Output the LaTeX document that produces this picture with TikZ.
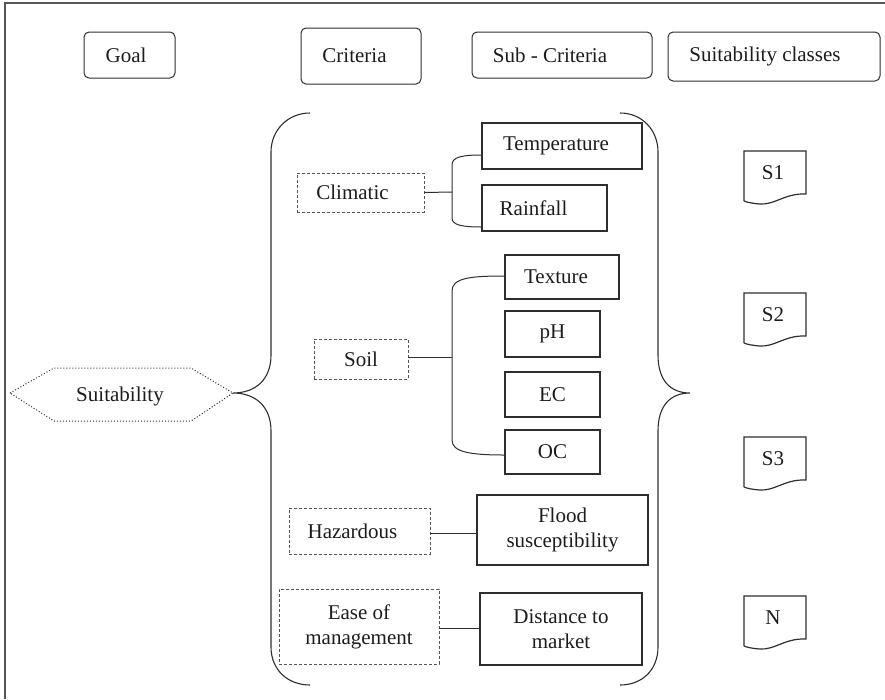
\documentclass[tikz,border=0pt]{standalone}
\usepackage{fontspec}
\setmainfont{Liberation Serif}
\usetikzlibrary{calc}
\definecolor{ink}{HTML}{1C1C1C}
\definecolor{ln}{HTML}{2E2E2E}
\definecolor{dsh}{HTML}{555555}
\begin{document}
\begin{tikzpicture}[x=1pt,y=-1pt,
  every node/.style={font=\fontsize{21}{25}\selectfont, text=ink, inner sep=0pt},
  hdr/.style={draw=ln, line width=1pt, rounded corners=5pt},
  crit/.style={draw=dsh, line width=0.8pt, dash pattern=on 3pt off 2pt},
  sub/.style={draw=ln, line width=1.3pt},
  conn/.style={draw=ln, line width=1pt},
  brace/.style={draw=ln, line width=1.1pt},
  sh/.style={execute at begin node={\hspace*{#1}}}
]
\useasboundingbox (0,0) rectangle (885,699);
% outer frame
\draw[draw=dsh, line width=1.6pt] (885,3) -- (5,3) -- (5,699);

% headers
\node[hdr, minimum width=91pt, minimum height=46pt, sh=-7pt] (goal) at (129.5,55) {Goal};
\node[hdr, minimum width=120pt, minimum height=56pt, sh=-13pt] (crith) at (361,56) {Criteria};
\node[hdr, minimum width=180pt, minimum height=46pt, sh=-24pt] (subh) at (562,55) {Sub - Criteria};
\node[hdr, minimum width=212pt, minimum height=49pt, sh=-18pt] (clsh) at (774,56.5) {Suitability classes};

% goal hexagon
\draw[draw=ln, line width=1pt, dotted] (10,393) -- (54,368) -- (191,368) -- (233,393) -- (191,421) -- (54,421) -- cycle;
\node (suit) at (120,396) {Suitability};
\coordinate (tipL) at (233,393);
\coordinate (tipR) at (690,393);

% braces
\draw[brace] (310,113) .. controls (288,113) and (271,130) .. (271,152)
  -- (271,355) .. controls (271,380) and (255,393) .. (tipL)
  .. controls (255,393) and (271,406) .. (271,431)
  -- (271,647) .. controls (271,670) and (288,685) .. (310,685);
\draw[brace] (620,113) .. controls (642,113) and (658,130) .. (658,152)
  -- (658,355) .. controls (658,380) and (670,393) .. (tipR)
  .. controls (670,393) and (658,406) .. (658,431)
  -- (658,647) .. controls (658,670) and (642,685) .. (620,685);

% criteria
\node[crit, minimum width=127pt, minimum height=39pt, sh=-16pt] (clim) at (360.5,192.5) {Climatic};
\node[crit, minimum width=94pt, minimum height=40pt] (soil) at (361,359) {Soil};
\node[crit, minimum width=141pt, minimum height=46pt, sh=-14pt] (haz) at (359.5,531) {Hazardous};
\node[crit, minimum width=160pt, minimum height=75pt, align=center] (ease) at (359,626.5) {Ease of\\management};

% sub-criteria
\node[sub, minimum width=160pt, minimum height=46pt, sh=-12pt] (temp) at (562,146) {Temperature};
\node[sub, minimum width=125pt, minimum height=46pt, sh=-22pt] (rain) at (544.5,208) {Rainfall};
\node[sub, minimum width=114pt, minimum height=44pt, sh=-12pt] (textu) at (562,277) {Texture};
\node[sub, minimum width=95pt, minimum height=46pt] (ph) at (552.5,334) {pH};
\node[sub, minimum width=95pt, minimum height=45pt] (ec) at (552.5,394.5) {EC};
\node[sub, minimum width=95pt, minimum height=44pt] (oc) at (552.5,452) {OC};
\node[sub, minimum width=171pt, minimum height=70pt, align=center] (flood) at (562.5,530) {Flood\\susceptibility};
\node[sub, minimum width=162pt, minimum height=72pt, align=center] (dist) at (561,629) {Distance to\\market};

% connectors
\coordinate (cj) at (452,192);
\draw[conn] (clim.east) -- (cj);
\draw[conn] ([yshift=-9pt]temp.west) .. controls (462,155) and (452,157) .. (452,165)
  -- (452,218) .. controls (452,225) and (462,227) .. ([yshift=-19pt]rain.west);
\coordinate (sj) at (452,357);
\draw[conn] ([yshift=2pt]soil.east) -- (sj);
\draw[conn] ([yshift=1pt]textu.west) .. controls (470,276) and (452,278) .. (452,291)
  -- (452,440) .. controls (452,452) and (470,455) .. ([yshift=-3pt]oc.west);
\draw[conn] ([yshift=-2pt]haz.east) -- ([yshift=-2pt]haz.east -| flood.west);
\draw[conn] ([yshift=-1.5pt]ease.east) -- ([yshift=-1.5pt]ease.east -| dist.west);

% suitability classes (document shapes)
\foreach \t/\n in {151/S1, 293/S2, 437/S3, 596/N}{
  \draw[draw=ln, line width=1.2pt] (744,\t+50) -- (744,\t) -- (806,\t) -- (806,\t+43)
    .. controls (785,\t+42) and (775,\t+54) .. (760,\t+53)
    .. controls (752,\t+52.5) and (746,\t+51) .. (744,\t+50);
  \node (c\n) at (773,\t+22) {\n};
}
\end{tikzpicture}
\end{document}
